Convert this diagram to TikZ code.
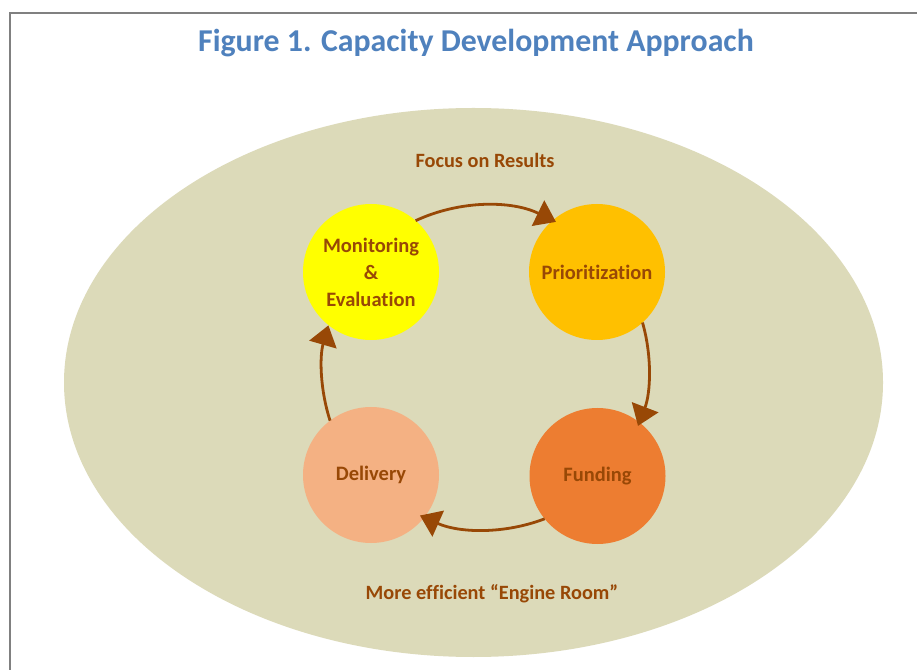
\documentclass[tikz,border=0pt]{standalone}
\usepackage{fontspec}
\setmainfont[Ligatures=NoCommon]{Carlito}
\usetikzlibrary{arrows.meta}
\definecolor{titleblue}{RGB}{79,129,189}
\definecolor{brownt}{RGB}{152,72,6}
\definecolor{olivebg}{RGB}{220,218,185}
\definecolor{cyellow}{RGB}{255,255,0}
\definecolor{cgold}{RGB}{255,192,0}
\definecolor{corange}{RGB}{237,125,49}
\definecolor{cpeach}{RGB}{244,177,131}
\definecolor{framegray}{RGB}{128,128,128}
\tikzset{
  stage/.style={circle, minimum size=136pt, inner sep=0pt, outer sep=0pt,
    text=brownt, font=\bfseries\fontsize{20.5}{27}\selectfont, align=center},
  cyc/.style={draw=brownt, line width=2.8pt,
    -{Triangle[width=28pt,length=20pt]}},
  lbl/.style={text=brownt, font=\bfseries\fontsize{20.3}{24}\selectfont},
}
\begin{document}
\begin{tikzpicture}[x=1pt,y=1pt]
\useasboundingbox (0,0) rectangle (917,669);
\fill[white] (0,0) rectangle (917,669);
% frame
\draw[framegray, line width=1.6pt] (10,-10) |- (940,656);
% title
\node[text=titleblue, font=\bfseries\fontsize{31.8}{38}\selectfont] (title) at (476,626) {Figure 1. Capacity Development Approach};
% background ellipse
\fill[olivebg] (473.5,286.5) ellipse [x radius=409.5, y radius=274.5];
\node[lbl] (focus) at (485,509) {Focus on Results};
\node[lbl] (engine) at (492,75) {More efficient “Engine Room”};
% stages
\node[stage, fill=cyellow] (me) at (371,397) {Monitoring\\\&\\Evaluation};
\node[stage, fill=cgold] (pr) at (597,397) {Prioritization};
\node[stage, fill=corange] (fu) at (597.5,193) {Funding};
\node[stage, fill=cpeach] (de) at (371,194) {Delivery};
% cycle arrows
\draw[cyc] (me.49) arc[start angle=115, end angle=64, radius=163];
\draw[cyc] (pr.-48) arc[start angle=16, end angle=-21, radius=163];
\draw[cyc] (fu.219) arc[start angle=-69, end angle=-114, radius=163];
\draw[cyc] (de.127) arc[start angle=198, end angle=164, radius=163];
\end{tikzpicture}
\end{document}
